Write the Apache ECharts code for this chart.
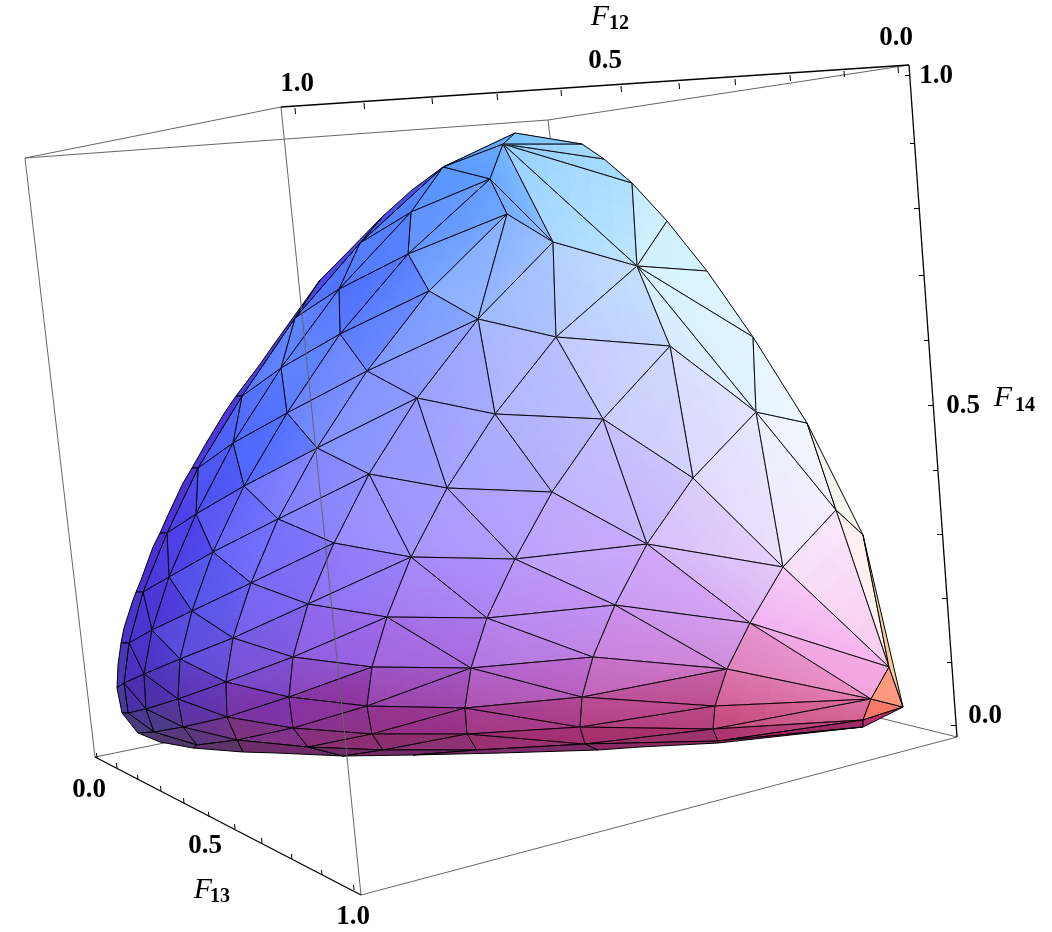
<!DOCTYPE html>
<html>
<head>
<meta charset="utf-8">
<style>
  html, body { margin: 0; padding: 0; background: #fff; }
  #chart { width: 1052px; height: 932px; }
</style>
<script src="https://cdn.jsdelivr.net/npm/echarts@6/dist/echarts.min.js"></script>
</head>
<body>
<div id="chart"></div>
<script>
// mesh vertices: [id, x, y]
const meshPoints = [
  ['t0',515,133],['a',503,144],['r1',582,144],['r2',604,159],['r3',632,183],['r4',667,221],['r5',707,271],['r6',753,337],['r7',807,423],['r8',863,535],['c0',903,707],
  ['ul',443,167],['b',490,179],['c',507,214],['d',553,242],['e',637,266],['f',411,212],['g',408,254],['h',429,291],['i',478,319],['j',556,337],['k',670,346],
  ['l',360,243],['m',339,289],['n',340,334],['o',367,371],['p',417,398],['q',495,414],['rr',603,419],['C',756,412],
  ['s',295,318],['tt',281,368],['u',287,413],['v',317,448],['w',369,474],['x',447,488],['y',552,492],['B',693,478],['E',836,510],
  ['v1',242,396],['v2',233,443],['v3',244,486],['v4',278,519],['v5',334,543],['v6',411,557],['v7',515,559],['z',647,544],['G',783,567],
  ['w1',198,468],['w2',196,514],['w3',213,552],['w4',251,583],['w5',308,604],['w6',387,617],['w7',487,618],['w8',615,605],['H',750,623],['I',889,667],
  ['x1',167,533],['x2',169,577],['x3',192,611],['x4',233,638],['x5',293,657],['x6',372,667],['x7',471,668],['x8',593,657],['J',727,669],['K',871,699],
  ['y1',143,592],['y2',152,630],['y3',180,659],['y4',226,682],['y5',289,697],['y6',367,706],['y7',465,708],['y8',582,697],['L',715,706],
  ['z1',129,643],['z2',144,674],['z3',178,699],['z4',227,717],['z5',293,728],['z6',372,734],['z7',467,734],['z8',580,727],['M',713,729],['N',863,720],
  ['q1',124,683],['q2',146,709],['q3',183,727],['q4',237,740],['q5',308,747],['q6',383,750],['q7',477,750],['q8',585,744],['O',718,741],
  ['e1',128,713],['e2',154,732],['e3',197,745],
  // silhouette
  ['a1',412,190],['a2',383,216],['a3',338,262],['a4',320,280],['a5',277,340],['a6',258,367],['a7',236,396],['a8',225,412],['a9',205,445],['a10',192,468],
  ['a11',183,483],['a12',168,515],['a13',160,533],['a14',153,547],['a15',141,580],['a16',136,592],['a17',132,603],['a18',124,628],['a19',121,643],['a20',118,665],
  ['a21',117,688],['a22',122,713],['a23',138,733],['a24',160,742],['a25',193,748],['a26',243,752],['a27',277,753],['a28',343,756],['a29',413,755],['a30',500,753],
  ['a31',598,750],['a32',640,747],['a33',718,743],['a34',863,727]
];

const meshFaces = [
  'a b ul','a b d','a d e','a e r3','a r3 r2','a r2 r1','a r1 t0','a t0 ul',
  'b d c','b f ul','b f g','b g c','c g h','c h i','c i d','d i j','d j e','e j k',
  'e r3 r4','e r4 r5','e r5 r6','e r6 C','e C k','k C B','k B rr','k rr j','j rr q','i j q','i q p','i p o','i h o','h g n','h n o','g m n','f g m','f m l','ul f l',
  'l m s','m s tt','m n tt','n tt u','n o u','u o v','o v p','v p w','p x w','p q x','q x y','q y rr','rr y z','rr z B',
  'B C G','B G z','C E G','C r7 E','r6 r7 C','r7 r8 E','E r8 I','E G I','G I H','z G H','z H w8','y z v7','v7 z w8',
  'x y v7','x v6 v7','w x v6','w v5 v6','w v4 v5','v w v4','v v3 v4','u v v3','u v2 v3','tt u v2','tt v1 v2','s tt v1',
  'v1 w1 v2','w1 w2 v2','v2 w2 v3','w2 w3 v3','v3 w3 v4','w3 w4 v4','v4 w4 v5','v5 w4 w5','v5 w5 v6','w5 w6 v6','v6 w6 w7','v6 w7 v7','v7 w7 w8',
  'w1 x1 w2','x1 x2 w2','w2 x2 w3','x2 x3 w3','w3 x3 w4','x3 x4 w4','w4 x4 w5','x4 x5 w5','w5 x5 w6','x5 x6 w6','w6 x6 x7','w6 x7 w7','w7 x7 x8','w7 x8 w8','w8 x8 J','w8 J H',
  'x1 y1 x2','x2 y1 y2','x2 y2 x3','y2 y3 x3','x3 y3 x4','y3 y4 x4','x4 y4 x5','y4 y5 x5','x5 y5 x6','y5 y6 x6','x6 y6 x7','y6 y7 x7','x7 y7 y8','x7 y8 x8','x8 y8 J','y8 L J',
  'y1 z1 y2','z1 z2 y2','y2 z2 y3','z2 z3 y3','y3 z3 y4','z3 z4 y4','y4 z4 y5','z4 z5 y5','y5 z5 y6','z5 z6 y6','y6 z6 y7','z6 z7 y7','y7 z7 z8','y7 z8 y8','y8 z8 L','z8 M L',
  'z1 q1 z2','q1 q2 z2','z2 q2 z3','q2 q3 z3','z3 q3 z4','q3 q4 z4','z4 q4 z5','q4 q5 z5','z5 q5 z6','q5 q6 z6','z6 q6 z7','q6 q7 z7','z7 q7 q8','z7 q8 z8','z8 q8 M','q8 O M',
  'J H K','H I K','J K L','L K M','M K N','M N O','K c0 N','K I c0','I r8 c0',
  'O a34 N','N a34 c0',
  'q1 e1 q2','q2 e1 e2','q2 e2 q3','q3 e2 e3','q3 e3 q4',
  'q4 a26 a27 a28 q5','q5 a28 q6','q6 a28 a29 q7','q7 a29 a30 a31 q8','q8 a31 a32 a33 O','O a33 a34',
  'ul a1 a2 l','l a2 a3 a4 s','s a4 a5 a6 a7 v1','v1 a7 a8 a9 a10 w1','w1 a10 a11 a12 a13 x1','x1 a13 a14 a15 a16 y1','y1 a16 a17 a18 a19 z1','z1 a19 a20 a21 q1','q1 a21 a22 e1','e1 a22 a23 e2','e2 a23 a24 a25 e3','e3 a25 a26 q4'
];

// colour samples taken at places on the surface: [x, y, colour]
const shadeSamples = [
  [520,137,'#7ac4ff'],[560,160,'#a6dcff'],[600,210,'#b0e0ff'],[660,245,'#d2f2ff'],[700,300,'#dcf5ff'],[770,380,'#eaf9ff'],[800,470,'#f3f9fd'],
  [480,160,'#5c9cff'],[460,190,'#5c9cff'],[450,235,'#76a6ff'],[420,190,'#4f80ff'],[385,240,'#5580ff'],[345,285,'#4f70ff'],[480,270,'#98b8ff'],[590,290,'#bcd2ff'],
  [560,380,'#b8bcff'],[640,390,'#cfd4ff'],[720,420,'#dcdeff'],[760,480,'#e8e4fd'],[820,540,'#fce8fc'],[700,560,'#dcc8fd'],[630,480,'#c6bcff'],[540,440,'#b4b4fc'],
  [480,450,'#acacff'],[420,440,'#9c9cff'],[380,420,'#8b98ff'],[330,400,'#7b90ff'],[300,350,'#5f84ff'],[260,420,'#4f70ff'],[220,470,'#4d58f4'],[180,530,'#4e3fe8'],
  [250,530,'#7070ff'],[310,500,'#8c88ff'],[400,520,'#a098ff'],[500,530,'#b4a0ff'],[600,560,'#c6a8ff'],[680,620,'#cfa0f5'],[800,620,'#fcc2fa'],[820,660,'#f9b4ea'],
  [780,680,'#ea88bc'],[660,650,'#d090e8'],[560,610,'#be94f8'],[450,590,'#aa88f8'],[350,580,'#9478fa'],[270,590,'#7a68f5'],[210,580,'#5558f0'],[150,600,'#4a35d8'],
  [135,650,'#4a32c8'],[190,640,'#5a50e0'],[250,660,'#7a58e0'],[340,640,'#9868ee'],[430,650,'#a870ea'],[540,670,'#b866d0'],[650,680,'#cc70c4'],[760,700,'#d4507e'],
  [800,712,'#d05480'],[640,725,'#ba4082'],[520,715,'#ac3c8c'],[420,720,'#9c3090'],[330,715,'#8d30a0'],[260,710,'#7c32ae'],[190,705,'#5a32b4'],[150,720,'#4a3a8a'],
  [140,695,'#4c2cb0'],[180,735,'#5a3878'],[250,735,'#7c3278'],[340,740,'#8a2e6a'],[430,745,'#8a2e6e'],[540,740,'#a0286a'],[650,738,'#9a2a64'],[780,735,'#b02c66'],
  [730,520,'#dcccfc'],[690,590,'#cfa4f8'],[710,635,'#ce9af0'],[787,687,'#ea88bc'],[807,633,'#fcc0fa'],[827,667,'#f9b0e8'],[847,567,'#fde8fd'],[813,533,'#f0e8fd'],
  [773,713,'#d4507e'],[773,733,'#a82862'],[673,713,'#b84080'],[673,740,'#8c2a60'],[427,643,'#a870e8'],[527,643,'#ba88f0'],[627,633,'#c890f0'],[420,687,'#a050c0'],
  [520,687,'#b864c8'],[620,680,'#c870c8'],[417,720,'#96308c'],[623,713,'#bb4488'],[420,743,'#8a2c60'],[527,740,'#962a64'],[627,737,'#a0285e']
];

// faces with a flat colour of their own
const flatFaces = {
  'K I c0': '#ff9a80', 'K c0 N': '#f87868', 'N a34 c0': '#b83068', 'I r8 c0': '#f7cf9c', 'E r8 I': '#fdf0ee', 'r7 r8 E': '#f6f6f0',
  'ul a1 a2 l': '#4a50f0', 'l a2 a3 a4 s': '#4a48ee', 's a4 a5 a6 a7 v1': '#4b40e8', 'v1 a7 a8 a9 a10 w1': '#4b38e0', 'w1 a10 a11 a12 a13 x1': '#4c32d8', 'x1 a13 a14 a15 a16 y1': '#4c2fd4',
  'y1 a16 a17 a18 a19 z1': '#4a34cc', 'z1 a19 a20 a21 q1': '#4838b8', 'q1 a21 a22 e1': '#483a98', 'e1 a22 a23 e2': '#4a3a80', 'e2 a23 a24 a25 e3': '#503870', 'e3 a25 a26 q4': '#5e3468',
  'q4 a26 a27 a28 q5': '#6e2c68', 'q5 a28 q6': '#702a68', 'q6 a28 a29 q7': '#742a68', 'q7 a29 a30 a31 q8': '#7c2a68', 'q8 a31 a32 a33 O': '#8c2a66', 'O a34 N': '#a02a68', 'O a33 a34': '#a02a68'
};

// box edges
const boxBackEdges = [
  [[548,120],[612,652]], [[95,757],[612,652]], [[957,737],[612,652]]
];
const boxEdges = [
  [[25,158],[281,107]], [[25,158],[548,120]], [[548,120],[909,65]],
  [[25,158],[95,757]], [[281,107],[361,895]], [[361,895],[957,737]]
];
const axisEdges = [
  [[281,107],[909,65]], [[909,65],[957,737]], [[95,757],[361,895]]
];

// tick marks
const f12TickX = [295,364,432,497,561,621,679,735,790,844,898];
const f12TickY = [108,103,98,94,90,86,83,79,75,71,67];
const f13TickX = [97,117,138,161,184,209,235,262,292,322,354];
const f13TickY = [758,768,780,791,803,817,829,843,859,875,890];
const f14TickX = [910,915,919,924,929,933,938,942,947,952,956];
const f14TickY = [75,143,208,275,340,405,470,534,598,662,725];

const tickLabels = [
  ['1.0',297,84],['0.5',605,61],['0.0',896,38],
  ['0.0',89,790],['0.5',205,846],['1.0',353,917],
  ['1.0',936,76],['0.5',963,406],['0.0',985,716]
];
const axisLetters = [['F',600,17],['F',203,890],['F',1003,398]];
const axisSubs = [['12',619,24],['13',220,897],['14',1025,406]];

const pointById = {};
meshPoints.forEach((p) => { pointById[p[0]] = [p[1], p[2]]; });

function parseHex(c) {
  return [parseInt(c.slice(1, 3), 16), parseInt(c.slice(3, 5), 16), parseInt(c.slice(5, 7), 16)];
}
const shadeRgb = shadeSamples.map((s) => [s[0], s[1], parseHex(s[2])]);

// colour at a place, weighted from the nearby samples
function shadeAt(p, power) {
  let sum = 0, r = 0, g = 0, b = 0;
  shadeRgb.forEach((s) => {
    const d2 = (s[0] - p[0]) * (s[0] - p[0]) + (s[1] - p[1]) * (s[1] - p[1]) + 1;
    const w = 1 / Math.pow(d2, power);
    sum += w;
    r += w * s[2][0];
    g += w * s[2][1];
    b += w * s[2][2];
  });
  return [r / sum, g / sum, b / sum];
}

function renderFace(params, api) {
  const key = meshFaces[api.value(0)];
  const pts = key.split(' ').map((id) => pointById[id]);
  const screen = pts.map((p) => api.coord(p));
  const children = [];
  if (flatFaces[key] || pts.length !== 3) {
    children.push({
      type: 'polygon',
      shape: { points: screen },
      style: { fill: flatFaces[key] || '#6a2a70', stroke: '#000', lineWidth: 1 }
    });
    return { type: 'group', children };
  }
  // split the triangle: the face's own colour, with some of the corner colours mixed in
  const rgb = pts.map((p) => shadeAt(p, 2));
  const mid = shadeAt([(pts[0][0] + pts[1][0] + pts[2][0]) / 3, (pts[0][1] + pts[1][1] + pts[2][1]) / 3], 3);
  const steps = 6;
  const at = (i, j) => {
    const k = steps - i - j;
    return [
      (pts[0][0] * i + pts[1][0] * j + pts[2][0] * k) / steps,
      (pts[0][1] * i + pts[1][1] * j + pts[2][1] * k) / steps
    ];
  };
  const colAt = (i, j) => {
    const k = steps - i - j;
    return [0, 1, 2].map((n) => 0.55 * mid[n] + 0.45 * (rgb[0][n] * i + rgb[1][n] * j + rgb[2][n] * k) / steps);
  };
  const piece = (a, b, c) => {
    const ca = colAt(a[0], a[1]), cb = colAt(b[0], b[1]), cc = colAt(c[0], c[1]);
    const col = 'rgb(' + [0, 1, 2].map((n) => Math.round((ca[n] + cb[n] + cc[n]) / 3)).join(',') + ')';
    children.push({
      type: 'polygon',
      shape: { points: [a, b, c].map((v) => api.coord(at(v[0], v[1]))) },
      style: { fill: col, stroke: col, lineWidth: 1 }
    });
  };
  for (let i = 0; i < steps; i++) {
    for (let j = 0; j < steps - i; j++) {
      piece([i, j], [i + 1, j], [i, j + 1]);
      if (i + j < steps - 1) piece([i + 1, j], [i + 1, j + 1], [i, j + 1]);
    }
  }
  children.push({
    type: 'polygon',
    shape: { points: screen },
    style: { fill: 'none', stroke: '#000', lineWidth: 1 }
  });
  return { type: 'group', children };
}

function lineSeries(edges, color, z, width) {
  return {
    type: 'lines',
    coordinateSystem: 'cartesian2d',
    polyline: false,
    silent: true,
    animation: false,
    z: z,
    lineStyle: { color: color, width: width || 1, opacity: 1 },
    data: edges.map((e) => ({ coords: e }))
  };
}

function textSeries(rows, font, z) {
  return {
    type: 'scatter',
    symbolSize: 0,
    silent: true,
    animation: false,
    z: z,
    itemStyle: { opacity: 1 },
    data: rows.map((r) => [r[1], r[2], r[0]]),
    label: {
      show: true,
      position: 'inside',
      formatter: (p) => p.data[2],
      color: '#000',
      opacity: 1,
      textBorderWidth: 0,
      textBorderColor: 'transparent',
      fontFamily: 'Liberation Serif',
      fontWeight: font.weight,
      fontStyle: font.style,
      fontSize: font.size
    }
  };
}

const tickEdges = [];
f12TickX.forEach((x, i) => tickEdges.push([[x, f12TickY[i]], [x + 0.5, f12TickY[i] + 6]]));
f13TickX.forEach((x, i) => tickEdges.push([[x, f13TickY[i]], [x - 0.5, f13TickY[i] - 5]]));
f14TickX.forEach((x, i) => tickEdges.push([[x, f14TickY[i]], [x - 5, f14TickY[i]]]));

const chart = echarts.init(document.getElementById('chart'));
chart.setOption({
  animation: false,
  backgroundColor: '#fff',
  grid: { left: 0, right: 0, top: 0, bottom: 0 },
  xAxis: { type: 'value', min: 0, max: 1052, show: false },
  yAxis: { type: 'value', min: 0, max: 932, inverse: true, show: false },
  series: [
    lineSeries(boxBackEdges, '#666', 1),
    {
      type: 'custom',
      coordinateSystem: 'cartesian2d',
      renderItem: renderFace,
      data: meshFaces.map((f, i) => [i]),
      encode: { x: -1, y: -1 },
      clip: false,
      silent: true,
      animation: false,
      z: 2
    },
    lineSeries(boxEdges, '#666', 3),
    lineSeries(axisEdges, '#000', 4, 1.3),
    lineSeries(tickEdges, '#000', 4),
    textSeries(tickLabels, { weight: 'bold', style: 'normal', size: 27 }, 5),
    textSeries(axisLetters, { weight: 'normal', style: 'italic', size: 30 }, 5),
    textSeries(axisSubs, { weight: 'bold', style: 'normal', size: 20 }, 5)
  ]
});
</script>
</body>
</html>
